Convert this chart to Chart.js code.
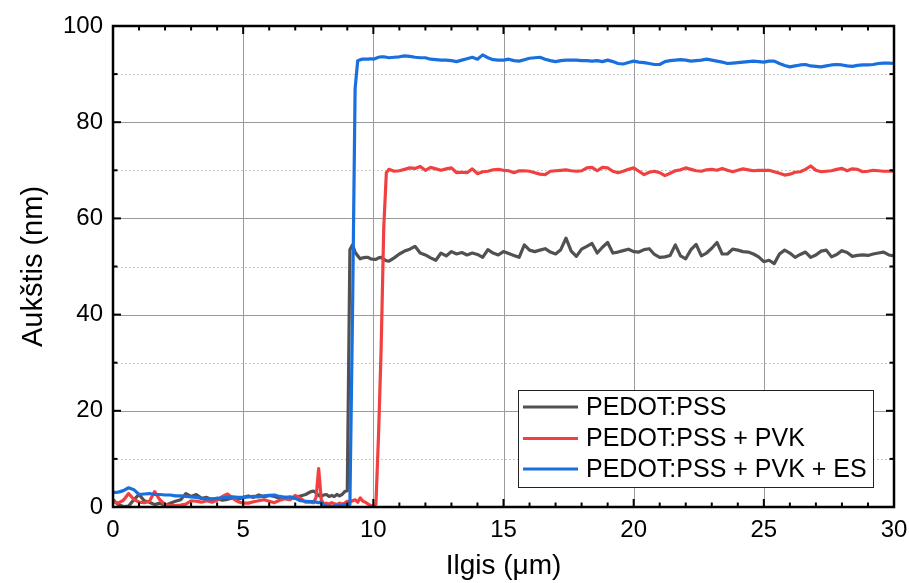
<!DOCTYPE html>
<html><head><meta charset="utf-8">
<script src="https://cdn.jsdelivr.net/npm/chart.js@4.4.0/dist/chart.umd.min.js"></script>
<style>html,body{margin:0;padding:0;background:#fff;} #wrap{width:909px;height:583px;position:relative;}</style>
</head><body><div id="wrap"><canvas id="c" width="909" height="583"></canvas></div>
<script>
// ---------- DATA ----------
const xValues = [
  0,0.2,0.4,0.6,0.8,1,1.2,1.4,1.6,1.8,2,2.2,2.4,2.6,2.8,3,3.2,3.4,3.6,3.8,4,4.2,4.4,4.6,4.8,5,5.2,5.4,5.6,5.8,6,6.2,6.4,6.6,6.8,7,7.2,7.4,7.6,
  7.7,7.8,7.9,8,8.1,8.2,8.3,8.4,8.5,8.6,8.7,8.8,8.9,9,9.1,9.2,9.3,9.4,9.5,9.6,9.7,9.8,9.9,10,10.1,10.2,10.3,10.4,10.5,10.6,
  10.8,11,11.2,11.4,11.6,11.8,12,12.2,12.4,12.6,12.8,13,13.2,13.4,13.6,13.8,14,14.2,14.4,14.6,14.8,15,15.2,15.4,15.6,15.8,16,16.2,16.4,16.6,16.8,17,17.2,17.4,17.6,17.8,18,18.2,18.4,18.6,18.8,19,19.2,19.4,19.6,19.8,20,20.2,20.4,20.6,20.8,21,21.2,21.4,21.6,21.8,22,22.2,22.4,22.6,22.8,23,23.2,23.4,23.6,23.8,24,24.2,24.4,24.6,24.8,25,25.2,25.4,25.6,25.8,26,26.2,26.4,26.6,26.8,27,27.2,27.4,27.6,27.8,28,28.2,28.4,28.6,28.8,29,29.2,29.4,29.6,29.8,30
];
const seriesNames = ['PEDOT:PSS', 'PEDOT:PSS + PVK', 'PEDOT:PSS + PVK + ES'];
const pedotPss = [
  1.5,0.5,0.1,0.2,1.5,2.6,1.3,1.0,0.5,0.8,0.3,0.8,1.2,1.5,2.8,2.2,2.6,1.8,2.0,1.5,1.8,1.4,1.6,1.9,1.6,2.0,2.3,2.0,2.5,2.1,2.4,2.2,1.8,2.0,1.7,2.0,2.3,2.6,3.2,
  3.3,3.0,2.4,2.2,2.5,2.6,2.2,2.4,2.2,2.6,2.3,2.6,3.2,3.4,53.5,54.5,53.0,52.2,51.6,51.8,51.9,51.9,51.6,51.5,51.5,51.8,51.9,51.5,51.2,51.1,
  51.8,52.6,53.2,53.6,54.2,52.8,52.4,51.8,51.3,52.8,52.2,53.1,52.6,52.9,52.4,52.8,52.5,51.9,53.5,52.8,52.4,53.1,52.7,52.3,51.9,54.5,53.4,53.1,53.4,53.7,53.0,52.6,53.5,55.9,53.2,52.1,53.6,54.2,54.8,52.8,54.0,55.0,52.8,53.0,53.3,53.6,53.1,53.0,53.5,53.7,52.5,51.9,52.0,52.3,54.5,52.2,51.6,53.5,54.6,52.2,52.8,53.8,55.0,52.6,52.6,53.6,53.4,53.1,53.0,52.6,52.0,51.0,51.3,50.6,52.6,53.4,52.8,51.9,52.5,53.0,51.9,52.4,53.2,53.4,52.0,52.5,53.3,52.9,52.1,52.3,52.4,52.3,52.6,52.8,53.0,52.4,52.2
];
const pedotPssPvk = [
  1.1,0.8,1.4,2.8,1.6,1.0,0.9,1.2,3.2,1.5,0.5,0.3,0.3,0.4,0.6,1.3,1.2,1.0,1.3,1.0,1.4,2.2,2.7,1.8,1.1,0.8,0.8,1.1,1.3,1.5,1.2,0.9,1.4,1.7,1.5,2.4,1.8,1.0,1.0,
  0.9,2.0,8.0,1.5,0.6,0.8,0.6,0.9,0.7,0.5,0.8,0.6,0.8,1.2,1.0,1.3,1.5,1.0,1.9,1.2,1.0,0.6,0.3,0.2,0.6,15,33,58,69.5,70.2,
  69.8,69.9,70.2,70.5,70.4,70.8,70.0,70.6,70.3,70.0,70.3,70.5,69.5,69.6,69.5,70.3,69.3,69.7,69.8,70.1,70.2,70.0,69.9,69.5,69.9,69.9,69.8,69.5,69.2,69.1,69.8,69.9,70.0,70.1,69.9,69.8,69.9,70.5,70.6,69.9,70.6,70.5,69.8,69.5,69.8,70.2,70.5,69.8,69.1,69.6,69.8,69.5,68.9,69.4,69.9,70.1,70.5,70.2,69.9,69.8,70.1,70.2,70.0,70.4,70.0,69.7,70.0,70.3,70.1,69.9,70.0,70.0,70.0,69.7,69.4,69.0,69.2,69.6,69.7,70.2,70.9,70.0,69.7,69.8,69.9,70.2,70.4,69.9,70.3,70.2,69.7,69.8,70.0,69.9,69.8,69.8,69.8
];
const pedotPssPvkEs = [
  3.0,3.1,3.4,4.0,3.6,2.6,2.7,2.8,2.6,2.6,2.5,2.5,2.3,2.3,2.2,2.1,2.0,1.8,1.7,1.7,1.8,1.9,2.0,2.1,2.0,2.0,2.1,2.2,2.1,2.3,2.4,2.5,2.2,2.0,2.1,1.8,1.3,1.2,1.1,
  1.1,1.0,0.9,1.0,0.4,0.1,0.2,0.1,0.2,0.3,0.2,0.3,0.5,0.3,0.5,40,87,92.8,93.0,93.1,93.1,93.1,93.2,93.1,93.3,93.5,93.6,93.6,93.5,93.4,
  93.5,93.6,93.8,93.7,93.5,93.4,93.4,93.1,93.0,92.9,92.9,92.8,92.6,92.9,93.2,93.5,93.1,94.0,93.4,93.0,92.9,92.9,93.1,92.8,92.7,93.0,93.3,93.4,93.5,93.1,92.8,92.6,92.8,92.9,92.9,92.9,92.8,92.8,92.7,92.8,92.6,92.9,92.6,92.2,92.1,92.4,92.7,92.5,92.4,92.2,92.0,92.0,92.6,92.8,92.9,93.0,92.9,92.7,92.8,92.9,93.1,92.9,92.7,92.5,92.2,92.3,92.4,92.5,92.6,92.7,92.6,92.5,92.7,92.7,92.2,91.8,91.5,91.7,91.9,92.0,91.7,91.6,91.5,91.7,91.9,92.0,91.9,91.7,91.6,91.8,91.9,91.9,92.0,92.2,92.3,92.3,92.2
];
const xTickLabels = [0, 5, 10, 15, 20, 25, 30];
const yTickLabels = [0, 20, 40, 60, 80, 100];

// ---------- STYLE ----------
const FONT = "'Liberation Sans', Arial, sans-serif";
const colors = ['#515151', '#F14040', '#1A6FDF'];
const seriesValues = [pedotPss, pedotPssPvk, pedotPssPvkEs];

const datasets = seriesValues.map((vals, i) => ({
  label: seriesNames[i],
  data: xValues.map((x, j) => ({x: x, y: vals[j]})),
  borderColor: colors[i],
  backgroundColor: colors[i],
  borderWidth: 3.2,
  pointRadius: 0,
  tension: 0,
  fill: false,
  borderJoinStyle: 'round',
  order: 2 - i
}));

const framePlugin = {
  id: 'frame',
  beforeDatasetsDraw(chart) {
    const {ctx, chartArea: a, scales: {x, y}} = chart;
    ctx.save();
    ctx.strokeStyle = '#b8b8b8';
    ctx.lineWidth = 1;
    ctx.setLineDash([1.5, 2.5]);
    for (let v = 10; v < 100; v += 20) {
      const py = Math.round(y.getPixelForValue(v)) + 0.5;
      ctx.beginPath(); ctx.moveTo(a.left, py); ctx.lineTo(a.right, py); ctx.stroke();
    }
    ctx.setLineDash([]);
    ctx.strokeStyle = '#9a9a9a';
    for (let v = 20; v < 100; v += 20) {
      const py = Math.round(y.getPixelForValue(v)) + 0.5;
      ctx.beginPath(); ctx.moveTo(a.left, py); ctx.lineTo(a.right, py); ctx.stroke();
    }
    for (let v = 5; v < 30; v += 5) {
      const px = Math.round(x.getPixelForValue(v)) + 0.5;
      ctx.beginPath(); ctx.moveTo(px, a.top); ctx.lineTo(px, a.bottom); ctx.stroke();
    }
    ctx.restore();
  },
  afterDatasetsDraw(chart) {
    const {ctx, chartArea: a, scales: {x, y}} = chart;
    ctx.save();
    ctx.strokeStyle = '#000';
    ctx.lineWidth = 2;
    for (let v = 0; v <= 30; v += 1) {
      const px = x.getPixelForValue(v);
      const len = (v % 5 === 0) ? 8 : 4.5;
      ctx.beginPath(); ctx.moveTo(px, a.bottom); ctx.lineTo(px, a.bottom - len); ctx.stroke();
      ctx.beginPath(); ctx.moveTo(px, a.top); ctx.lineTo(px, a.top + len); ctx.stroke();
    }
    for (let v = 0; v <= 100; v += 10) {
      const py = y.getPixelForValue(v);
      const len = (v % 20 === 0) ? 8 : 4.5;
      ctx.beginPath(); ctx.moveTo(a.left, py); ctx.lineTo(a.left + len, py); ctx.stroke();
      ctx.beginPath(); ctx.moveTo(a.right, py); ctx.lineTo(a.right - len, py); ctx.stroke();
    }
    ctx.lineWidth = 2.5;
    ctx.strokeRect(a.left, a.top, a.right - a.left, a.bottom - a.top);

    // legend
    const lx = a.right - 376, ly = a.bottom - 117, lw = 355, lh = 97;
    ctx.fillStyle = '#fff';
    ctx.fillRect(lx, ly, lw, lh);
    ctx.lineWidth = 1;
    ctx.strokeStyle = '#222';
    ctx.strokeRect(lx + 0.5, ly + 0.5, lw, lh);
    ctx.font = '25px ' + FONT;
    ctx.textBaseline = 'middle';
    ctx.textAlign = 'left';
    const rows = [17, 48.5, 79];
    seriesNames.forEach((name, i) => {
      const ry = ly + rows[i];
      ctx.strokeStyle = colors[i];
      ctx.lineWidth = 3.2;
      ctx.beginPath(); ctx.moveTo(lx + 5, ry); ctx.lineTo(lx + 60, ry); ctx.stroke();
      ctx.fillStyle = '#000';
      ctx.fillText(name, lx + 68, ry + 1);
    });
    ctx.restore();
  }
};

new Chart(document.getElementById('c'), {
  type: 'line',
  data: { datasets },
  options: {
    responsive: false,
    animation: false,
    devicePixelRatio: 1,
    layout: { autoPadding: false, padding: { top: 26, right: 15, left: 0, bottom: 0 } },
    plugins: { legend: { display: false }, tooltip: { enabled: false } },
    scales: {
      x: {
        type: 'linear', min: 0, max: 30,
        afterFit(s) { s.height = 76; s.paddingLeft = 0; s.paddingRight = 0; },
        grid: { display: false, drawTicks: false },
        border: { display: false },
        afterBuildTicks(s) { s.ticks = xTickLabels.map(v => ({value: v})); },
        ticks: { color: '#000', padding: 9, font: { size: 24, family: FONT }, maxRotation: 0, autoSkip: false },
        title: { display: true, text: 'Ilgis (μm)', color: '#000', font: { size: 28, family: FONT }, padding: { top: 0, bottom: 0 } }
      },
      y: {
        type: 'linear', min: 0, max: 100,
        afterFit(s) { s.width = 113; s.paddingTop = 0; s.paddingBottom = 0; },
        grid: { display: false, drawTicks: false },
        border: { display: false },
        afterBuildTicks(s) { s.ticks = yTickLabels.map(v => ({value: v})); },
        ticks: { color: '#000', padding: 10, font: { size: 24, family: FONT }, autoSkip: false },
        title: { display: true, text: 'Aukštis (nm)', color: '#000', font: { size: 29, family: FONT }, padding: { top: 17, bottom: 0 } }
      }
    }
  },
  plugins: [framePlugin]
});
</script>
</body></html>
